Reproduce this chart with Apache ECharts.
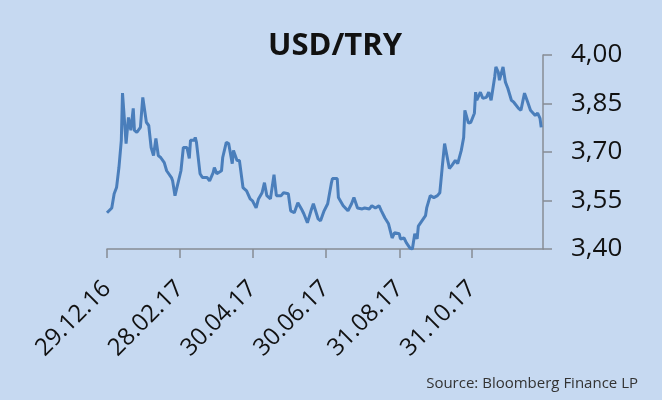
<!DOCTYPE html>
<html>
<head>
<meta charset="utf-8">
<script src="https://cdn.jsdelivr.net/npm/echarts@6/dist/echarts.min.js"></script>
<style>
html,body{margin:0;padding:0;background:#c6d9f1;}
#chart{width:662px;height:400px;}
</style>
</head>
<body>
<div id="chart"></div>
<script>
const title = 'USD/TRY';
const source = 'Source: Bloomberg Finance LP';
const axisStart = '2016-12-29';
const axisEnd = '2017-12-29T12:00';
const tickDates = ['2016-12-29','2017-02-28','2017-04-30','2017-06-30','2017-08-31','2017-10-31'];
const yTicks = [3.40, 3.55, 3.70, 3.85, 4.00];
const dates = [
'2016-12-29','2017-01-02','2017-01-04','2017-01-06','2017-01-08','2017-01-10','2017-01-11','2017-01-14','2017-01-15','2017-01-16',
'2017-01-18','2017-01-20','2017-01-21','2017-01-23','2017-01-26','2017-01-28','2017-01-31','2017-02-02','2017-02-04','2017-02-06',
'2017-02-08','2017-02-10','2017-02-12','2017-02-15','2017-02-17','2017-02-21','2017-02-22','2017-02-24','2017-02-26','2017-02-27',
'2017-03-01','2017-03-03','2017-03-06','2017-03-08','2017-03-09','2017-03-12','2017-03-13','2017-03-14','2017-03-17','2017-03-19',
'2017-03-23','2017-03-25','2017-03-28','2017-03-29','2017-03-31','2017-04-04','2017-04-05','2017-04-08','2017-04-10','2017-04-13',
'2017-04-14','2017-04-17','2017-04-19','2017-04-22','2017-04-25','2017-04-28','2017-04-30','2017-05-03','2017-05-05','2017-05-08',
'2017-05-10','2017-05-12','2017-05-15','2017-05-18','2017-05-20','2017-05-24','2017-05-26','2017-05-30','2017-06-01','2017-06-04',
'2017-06-07','2017-06-10','2017-06-12','2017-06-15','2017-06-18','2017-06-20','2017-06-24','2017-06-26','2017-06-29','2017-07-02',
'2017-07-05','2017-07-06','2017-07-10','2017-07-11','2017-07-15','2017-07-19','2017-07-22','2017-07-24','2017-07-27','2017-07-31',
'2017-08-02','2017-08-06','2017-08-08','2017-08-11','2017-08-14','2017-08-16','2017-08-19','2017-08-22','2017-08-25','2017-08-27',
'2017-08-31','2017-09-01','2017-09-04','2017-09-06','2017-09-09','2017-09-11','2017-09-13','2017-09-15','2017-09-16','2017-09-19',
'2017-09-22','2017-09-23','2017-09-26','2017-09-29','2017-10-02','2017-10-04','2017-10-06','2017-10-07','2017-10-08','2017-10-12',
'2017-10-14','2017-10-17','2017-10-19','2017-10-22','2017-10-24','2017-10-25','2017-10-28','2017-10-30','2017-11-02','2017-11-03',
'2017-11-04','2017-11-07','2017-11-09','2017-11-12','2017-11-14','2017-11-16','2017-11-19','2017-11-20','2017-11-22','2017-11-23',
'2017-11-26','2017-11-28','2017-11-30','2017-12-03','2017-12-05','2017-12-09','2017-12-11','2017-12-14','2017-12-17','2017-12-19',
'2017-12-23','2017-12-25','2017-12-27','2017-12-28'
];
const usdtry = [
3.512,3.527,3.571,3.590,3.652,3.736,3.882,3.726,3.767,3.807,
3.767,3.835,3.767,3.761,3.776,3.869,3.792,3.782,3.714,3.689,
3.742,3.689,3.683,3.667,3.642,3.621,3.611,3.565,3.596,3.593,
3.642,3.714,3.714,3.680,3.736,3.736,3.745,3.730,3.633,3.621,
3.621,3.611,3.636,3.652,3.633,3.642,3.683,3.730,3.726,3.664,
3.705,3.674,3.674,3.590,3.580,3.555,3.549,3.527,3.555,3.574,
3.605,3.565,3.555,3.630,3.565,3.565,3.574,3.571,3.518,3.512,
3.543,3.524,3.509,3.481,3.518,3.540,3.493,3.487,3.518,3.540,
3.602,3.618,3.618,3.559,3.534,3.518,3.540,3.559,3.527,3.524,
3.527,3.524,3.534,3.527,3.534,3.518,3.496,3.478,3.434,3.450,
3.447,3.431,3.434,3.419,3.403,3.400,3.447,3.431,3.471,3.487,
3.503,3.527,3.565,3.559,3.565,3.574,3.652,3.689,3.726,3.649,
3.658,3.674,3.664,3.705,3.745,3.829,3.789,3.792,3.820,3.885,
3.860,3.885,3.866,3.869,3.885,3.860,3.932,3.963,3.947,3.922,
3.963,3.916,3.897,3.860,3.854,3.835,3.829,3.882,3.851,3.829,
3.813,3.820,3.804,3.776
];

const ts = s => Date.parse(s.length === 10 ? s + 'T00:00:00Z' : s + 'Z');
const seriesData = dates.map((d, i) => [ts(d), usdtry[i]]);
const tickValues = tickDates.map(ts);
function fmtDate(v) {
  const d = new Date(v);
  const p = n => String(n).padStart(2, '0');
  return p(d.getUTCDate()) + '.' + p(d.getUTCMonth() + 1) + '.' + String(d.getUTCFullYear()).slice(2);
}
const chart = echarts.init(document.getElementById('chart'), null, {renderer: 'canvas'});
const axisColor = '#878c94';
chart.setOption({
  backgroundColor: '#c6d9f1',
  animation: false,
  title: {
    text: title, left: 330, top: 26, textAlign: 'center',
    textStyle: {fontFamily: 'Open Sans', fontWeight: 'bold', fontSize: 31, color: '#111'}
  },
  graphic: [{
    type: 'text', right: 24, top: 376,
    style: {text: source, fontFamily: 'Open Sans', fontSize: 15, fill: '#333'}
  }],
  grid: {left: 107, right: 119, top: 55, bottom: 151},
  xAxis: {
    type: 'value', min: ts(axisStart), max: ts(axisEnd),
    axisLine: {lineStyle: {color: axisColor, width: 1.5}},
    axisTick: {show: true, customValues: tickValues, length: 9, lineStyle: {color: axisColor, width: 1.5}},
    axisLabel: {
      customValues: tickValues, rotate: 45, margin: 36,
      formatter: fmtDate, fontFamily: 'Open Sans', fontSize: 24, color: '#111'
    },
    splitLine: {show: false}
  },
  yAxis: {
    type: 'value', position: 'right', min: 3.4, max: 4.0,
    axisLine: {show: true, lineStyle: {color: axisColor, width: 1.5}},
    axisTick: {show: true, customValues: yTicks, length: 9, lineStyle: {color: axisColor, width: 1.5}},
    axisLabel: {
      customValues: yTicks, margin: 28,
      formatter: v => v.toFixed(2).replace('.', ','),
      fontFamily: 'Open Sans', fontSize: 26, color: '#111'
    },
    splitLine: {show: false}
  },
  series: [{
    type: 'line', data: seriesData, showSymbol: false, symbol: 'none',
    lineStyle: {color: '#4a7ebb', width: 3}
  }]
});
</script>
</body>
</html>
